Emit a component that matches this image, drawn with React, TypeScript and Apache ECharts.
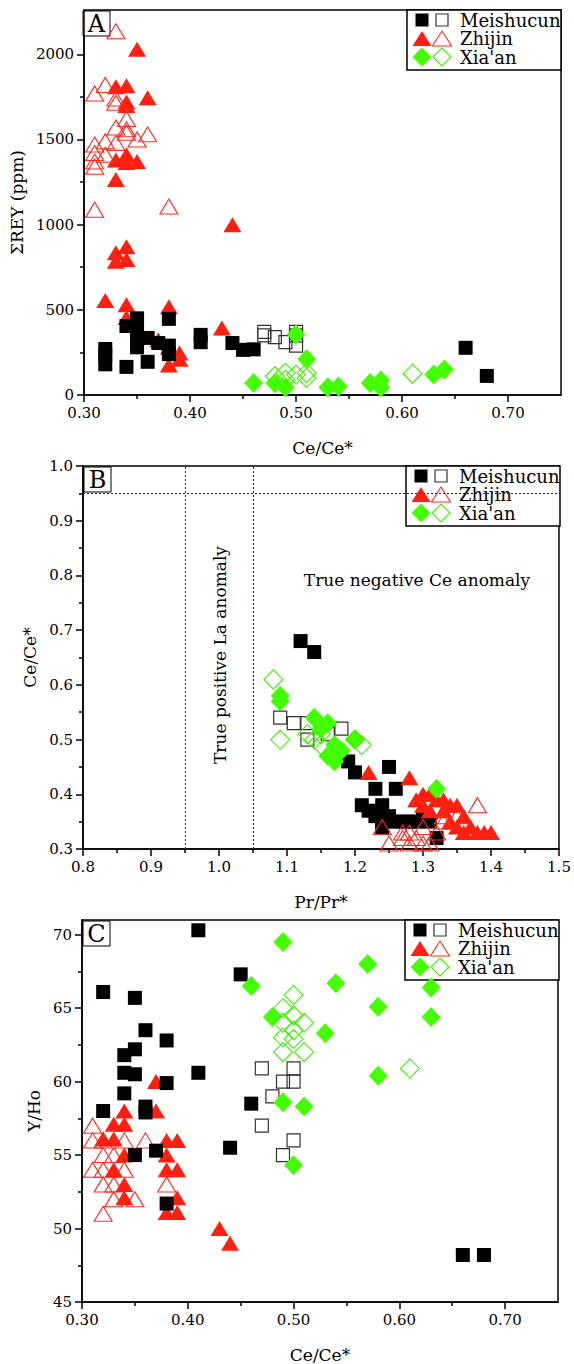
import React, { useEffect, useRef } from 'react';
import * as echarts from 'echarts';

const FONT = '"DejaVu Serif", serif';

// ---------- Panel A: Ce/Ce* vs ΣREY (ppm) ----------
const aMeiFilled = [[0.32,270],[0.32,235],[0.32,180],[0.34,405],[0.34,165],[0.35,450],[0.35,380],[0.35,320],[0.35,280],[0.36,335],[0.36,195],[0.37,305],[0.38,447],[0.38,290],[0.38,240],[0.41,353],[0.41,310],[0.44,305],[0.45,265],[0.46,268],[0.66,277],[0.68,112]];
const aMeiOpen = [[0.47,370],[0.47,350],[0.48,340],[0.49,310],[0.50,370],[0.50,350],[0.50,290]];
const aZhiFilled = [[0.35,2030],[0.33,1810],[0.34,1815],[0.36,1745],[0.34,1720],[0.34,1700],[0.33,1380],[0.34,1410],[0.34,1365],[0.35,1370],[0.33,1265],[0.32,555],[0.33,835],[0.33,785],[0.34,870],[0.34,795],[0.34,530],[0.34,455],[0.37,325],[0.38,518],[0.38,280],[0.38,176],[0.39,247],[0.39,210],[0.43,394],[0.44,1000]];
const aZhiOpen = [[0.33,2135],[0.31,1770],[0.32,1820],[0.33,1740],[0.33,1715],[0.34,1620],[0.33,1570],[0.34,1560],[0.36,1530],[0.35,1500],[0.32,1490],[0.31,1470],[0.33,1480],[0.31,1420],[0.32,1410],[0.31,1370],[0.31,1340],[0.34,1540],[0.31,1088],[0.38,1106]];
const aXiaFilled = [[0.46,70],[0.48,70],[0.49,45],[0.50,355],[0.51,212],[0.53,45],[0.54,50],[0.57,70],[0.58,85],[0.58,45],[0.63,120],[0.64,150]];
const aXiaOpen = [[0.48,110],[0.49,130],[0.49,90],[0.50,120],[0.51,130],[0.51,100],[0.61,125]];

// ---------- Panel B: Pr/Pr* vs Ce/Ce* ----------
const bMeiFilled = [[1.12,0.68],[1.14,0.66],[1.19,0.46],[1.20,0.44],[1.25,0.45],[1.23,0.41],[1.26,0.41],[1.21,0.38],[1.24,0.38],[1.23,0.36],[1.24,0.35],[1.25,0.36],[1.26,0.35],[1.27,0.35],[1.28,0.35],[1.29,0.35],[1.30,0.36],[1.31,0.35],[1.32,0.32],[1.24,0.34],[1.22,0.37]];
const bMeiOpen = [[1.09,0.54],[1.11,0.53],[1.13,0.53],[1.13,0.50],[1.16,0.51],[1.18,0.52]];
const bZhiFilled = [[1.22,0.44],[1.28,0.43],[1.29,0.39],[1.30,0.40],[1.31,0.40],[1.30,0.38],[1.32,0.39],[1.33,0.39],[1.34,0.38],[1.35,0.38],[1.33,0.37],[1.34,0.35],[1.35,0.34],[1.36,0.33],[1.37,0.34],[1.38,0.33],[1.39,0.33],[1.40,0.33],[1.31,0.37],[1.36,0.36]];
const bZhiOpen = [[1.24,0.34],[1.25,0.31],[1.27,0.33],[1.27,0.32],[1.28,0.31],[1.28,0.33],[1.29,0.32],[1.30,0.34],[1.30,0.31],[1.31,0.31],[1.32,0.33],[1.33,0.35],[1.33,0.36],[1.35,0.36],[1.38,0.38]];
const bXiaFilled = [[1.09,0.58],[1.09,0.57],[1.14,0.54],[1.15,0.52],[1.16,0.53],[1.16,0.47],[1.17,0.49],[1.17,0.46],[1.18,0.48],[1.20,0.50],[1.32,0.41]];
const bXiaOpen = [[1.08,0.61],[1.09,0.50],[1.13,0.51],[1.14,0.50],[1.15,0.51],[1.15,0.49],[1.20,0.50],[1.21,0.49]];
const bGuideX = [0.95, 1.05];
const bGuideY = [0.95];

// ---------- Panel C: Ce/Ce* vs Y/Ho ----------
const cMeiFilled = [[0.41,70.3],[0.32,66.1],[0.35,65.7],[0.36,63.5],[0.38,62.8],[0.35,62.2],[0.34,61.8],[0.34,60.6],[0.35,60.5],[0.41,60.6],[0.38,59.9],[0.34,59.2],[0.45,67.3],[0.32,58.0],[0.36,58.3],[0.36,57.9],[0.35,55.0],[0.37,55.3],[0.38,51.7],[0.44,55.5],[0.46,58.5],[0.66,48.2],[0.68,48.2]];
const cMeiOpen = [[0.47,60.9],[0.47,57.0],[0.48,59.0],[0.49,60.0],[0.49,55.0],[0.50,60.9],[0.50,60.0],[0.50,56.0]];
const cZhiFilled = [[0.37,60.0],[0.34,58.0],[0.37,58.0],[0.33,57.1],[0.34,57.1],[0.32,56.1],[0.33,56.1],[0.38,56.0],[0.39,56.0],[0.34,55.0],[0.38,55.0],[0.33,54.0],[0.38,54.0],[0.39,54.0],[0.34,53.0],[0.34,52.1],[0.39,52.1],[0.38,51.1],[0.39,51.1],[0.43,50.0],[0.44,49.0]];
const cZhiOpen = [[0.31,57.0],[0.31,56.0],[0.31,54.0],[0.32,55.0],[0.32,54.0],[0.32,53.0],[0.32,51.0],[0.33,55.0],[0.33,53.0],[0.33,52.0],[0.34,56.0],[0.34,54.0],[0.35,52.0],[0.36,56.0],[0.38,53.0],[0.32,56.0]];
const cXiaFilled = [[0.49,69.5],[0.46,66.5],[0.48,64.4],[0.57,68.0],[0.54,66.7],[0.63,66.4],[0.58,65.1],[0.63,64.4],[0.53,63.3],[0.58,60.4],[0.49,58.6],[0.51,58.3],[0.50,54.3]];
const cXiaOpen = [[0.50,65.9],[0.49,65.0],[0.50,64.5],[0.49,64.0],[0.51,64.0],[0.50,63.5],[0.49,63.0],[0.50,62.9],[0.51,62.0],[0.49,62.0],[0.61,60.9]];

// ---------- Ticks ----------
const ceTicks = [0.3, 0.4, 0.5, 0.6, 0.7];
const ceMinor = [0.35, 0.45, 0.55, 0.65];
const reyTicks = [0, 500, 1000, 1500, 2000];
const reyMinor = [250, 750, 1250, 1750];
const prTicks = [0.8, 0.9, 1.0, 1.1, 1.2, 1.3, 1.4, 1.5];
const prMinor = [0.85, 0.95, 1.05, 1.15, 1.25, 1.35, 1.45];
const ceBTicks = [0.3, 0.4, 0.5, 0.6, 0.7, 0.8, 0.9, 1.0];
const ceBMinor = [0.35, 0.45, 0.55, 0.65, 0.75, 0.85, 0.95];
const yhoTicks = [45, 50, 55, 60, 65, 70];
const yhoMinor = [47.5, 52.5, 57.5, 62.5, 67.5];

const legendNames = ['Meishucun', 'Zhijin', "Xia'an"];

const GRIDS = [
  { left: 82, top: 10, right: 13, height: 385 },
  { left: 83, top: 466, right: 15, height: 383 },
  { left: 82, top: 920, right: 16, height: 383 },
];

const RED = '#ff1f10';
const RED_O = '#ff2a1f';
const GREEN = '#44ff00';
const GREEN_O = '#3ff000';

const STYLES: any = {
  meiF: { symbol: 'rect', symbolSize: 14, itemStyle: { color: '#000', opacity: 1 } },
  meiO: { symbol: 'rect', symbolSize: 13, itemStyle: { color: 'rgba(255,255,255,0)', borderColor: '#333', borderWidth: 1.2, opacity: 1 } },
  zhiF: { symbol: 'triangle', symbolSize: [18, 15], itemStyle: { color: RED, opacity: 1 } },
  zhiO: { symbol: 'triangle', symbolSize: [18, 15], itemStyle: { color: 'rgba(255,255,255,0)', borderColor: RED_O, borderWidth: 1.1, opacity: 1 } },
  xiaF: { symbol: 'diamond', symbolSize: [19, 20], itemStyle: { color: GREEN, opacity: 1 } },
  xiaO: { symbol: 'diamond', symbolSize: [19, 19], itemStyle: { color: 'rgba(255,255,255,0)', borderColor: GREEN_O, borderWidth: 1.1, opacity: 1 } },
};

function sc(g: number, data: number[][], key: string, extra: any = {}) {
  return { type: 'scatter', xAxisIndex: 2 * g, yAxisIndex: 2 * g, data, silent: true, ...STYLES[key], ...extra };
}

function axes(dim: 'x' | 'y', g: number, min: number, max: number, major: number[], minor: number[], fmt: (v: number) => string, name: string, nameGap: number) {
  const pos = dim === 'x' ? 'bottom' : 'left';
  const main = {
    type: 'value', gridIndex: g, min, max, position: pos,
    name, nameLocation: 'middle', nameGap,
    nameTextStyle: { fontFamily: FONT, fontSize: 17, color: '#000' },
    axisLine: { show: true, onZero: false, lineStyle: { color: '#000', width: 1.5 } },
    axisTick: { show: true, inside: false, length: 7, customValues: major, lineStyle: { color: '#000', width: 1.5 } },
    axisLabel: { show: true, customValues: major, formatter: fmt, margin: 10, fontFamily: FONT, fontSize: 15, color: '#000' },
    splitLine: { show: false },
  };
  const minorAx = {
    type: 'value', gridIndex: g, min, max, position: pos,
    axisLine: { show: false, onZero: false },
    axisTick: { show: true, inside: false, length: 4, customValues: minor, lineStyle: { color: '#000', width: 1.5 } },
    axisLabel: { show: false },
    splitLine: { show: false },
  };
  return [main, minorAx];
}

function legendGroup(left: number, top: number) {
  const r = [10, 28.5, 47];
  const open = 'rgba(255,255,255,0)';
  const children: any[] = [
    { type: 'rect', shape: { x: 0, y: 0, width: 154, height: 60 }, style: { fill: '#fff', stroke: '#000', lineWidth: 1.5 } },
    { type: 'rect', shape: { x: 8.5, y: r[0] - 6.5, width: 13, height: 13 }, style: { fill: '#000' } },
    { type: 'rect', shape: { x: 29, y: r[0] - 6, width: 12, height: 12 }, style: { fill: open, stroke: '#333', lineWidth: 1.2 } },
    { type: 'polygon', shape: { points: [[5.5, r[1] + 7.5], [24.5, r[1] + 7.5], [15, r[1] - 7.5]] }, style: { fill: RED } },
    { type: 'polygon', shape: { points: [[25.5, r[1] + 7.5], [44.5, r[1] + 7.5], [35, r[1] - 7.5]] }, style: { fill: open, stroke: RED_O, lineWidth: 1.1 } },
    { type: 'polygon', shape: { points: [[15, r[2] - 9.5], [24.5, r[2]], [15, r[2] + 9.5], [5.5, r[2]]] }, style: { fill: GREEN } },
    { type: 'polygon', shape: { points: [[35, r[2] - 9], [44, r[2]], [35, r[2] + 9], [26, r[2]]] }, style: { fill: open, stroke: GREEN_O, lineWidth: 1.1 } },
  ];
  legendNames.forEach((n, i) => {
    children.push({ type: 'text', x: 53, y: r[i], style: { text: n, fontSize: 18, fontFamily: FONT, fill: '#000', align: 'left', verticalAlign: 'middle' } });
  });
  return { type: 'group', x: left, y: top, z: 100, children };
}

function letterBox(left: number, top: number, letter: string) {
  return {
    type: 'group', x: left + 1, y: top + 1, z: 100,
    children: [
      { type: 'rect', shape: { x: 0, y: 0, width: 27, height: 25 }, style: { fill: '#fff', stroke: '#000', lineWidth: 1 } },
      { type: 'text', x: 13.5, y: 13, style: { text: letter, fontSize: 24, fontFamily: FONT, fill: '#000', align: 'center', verticalAlign: 'middle' } },
    ],
  };
}

const f2 = (v: number) => v.toFixed(2);
const f1 = (v: number) => v.toFixed(1);
const f0 = (v: number) => String(Math.round(v));

function buildOption() {
  const xA = axes('x', 0, 0.3, 0.75, ceTicks, ceMinor, f2, 'Ce/Ce*', 44);
  const xB = axes('x', 1, 0.8, 1.5, prTicks, prMinor, f1, 'Pr/Pr*', 44);
  const xC = axes('x', 2, 0.3, 0.75, ceTicks, ceMinor, f2, 'Ce/Ce*', 44);
  const yA = axes('y', 0, 0, 2260, reyTicks, reyMinor, f0, 'ΣREY (ppm)', 54);
  const yB = axes('y', 1, 0.3, 1.0, ceBTicks, ceBMinor, f1, 'Ce/Ce*', 42);
  const yC = axes('y', 2, 45, 71, yhoTicks, yhoMinor, f0, 'Y/Ho', 37);

  const guideLines = {
    silent: true, symbol: 'none', label: { show: false },
    lineStyle: { color: '#222', type: [2, 2], width: 1 },
    data: [...bGuideX.map((v) => ({ xAxis: v })), ...bGuideY.map((v) => ({ yAxis: v }))],
  };

  return {
    animation: false,
    backgroundColor: '#fff',
    textStyle: { fontFamily: FONT },
    grid: GRIDS.map((g) => ({ ...g, show: true, borderColor: '#000', borderWidth: 1.5, backgroundColor: 'rgba(0,0,0,0)', containLabel: false })),
    xAxis: [...xA, ...xB, ...xC],
    yAxis: [...yA, ...yB, ...yC],
    series: [
      sc(0, aZhiFilled, 'zhiF'),
      sc(0, aZhiOpen, 'zhiO'),
      sc(0, aMeiFilled, 'meiF'),
      sc(0, aMeiOpen, 'meiO'),
      sc(0, aXiaFilled, 'xiaF'),
      sc(0, aXiaOpen, 'xiaO'),

      sc(1, bMeiFilled, 'meiF', { markLine: guideLines }),
      sc(1, bMeiOpen, 'meiO'),
      sc(1, bZhiFilled, 'zhiF'),
      sc(1, bZhiOpen, 'zhiO'),
      sc(1, bXiaFilled, 'xiaF'),
      sc(1, bXiaOpen, 'xiaO'),

      sc(2, cZhiOpen, 'zhiO'),
      sc(2, cZhiFilled, 'zhiF'),
      sc(2, cMeiFilled, 'meiF'),
      sc(2, cMeiOpen, 'meiO'),
      sc(2, cXiaFilled, 'xiaF'),
      sc(2, cXiaOpen, 'xiaO'),
    ],
    graphic: [
      legendGroup(407, 10),
      legendGroup(406, 466),
      legendGroup(405, 920),
      letterBox(82, 10, 'A'),
      letterBox(83, 466, 'B'),
      letterBox(82, 920, 'C'),
      { type: 'text', x: 220, y: 655, rotation: Math.PI / 2, z: 50, style: { text: 'True positive La anomaly', fontSize: 17, fontFamily: FONT, fill: '#000', align: 'center', verticalAlign: 'middle' } },
      { type: 'text', x: 417, y: 580, z: 50, style: { text: 'True negative Ce anomaly', fontSize: 17, fontFamily: FONT, fill: '#000', align: 'center', verticalAlign: 'middle' } },
    ],
  };
}

export default function App() {
  const ref = useRef<HTMLDivElement>(null);
  useEffect(() => {
    const chart = echarts.init(ref.current as HTMLDivElement, null, { renderer: 'svg' });
    chart.setOption(buildOption() as any);
    return () => chart.dispose();
  }, []);
  return <div ref={ref} style={{ position: 'absolute', left: 0, top: 0, width: 574, height: 1364, background: '#fff' }} />;
}
